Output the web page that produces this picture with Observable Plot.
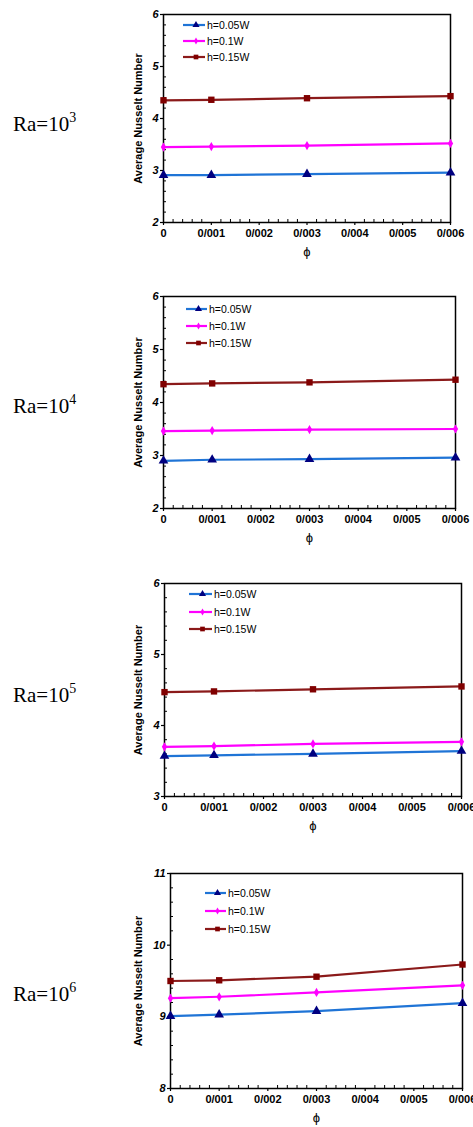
<!DOCTYPE html>
<html>
<head>
<meta charset="utf-8">
<script src="https://cdn.jsdelivr.net/npm/d3@7"></script>
<script src="https://cdn.jsdelivr.net/npm/@observablehq/plot@0.6"></script>
<style>
  html, body { margin: 0; padding: 0; background: #fff; }
  body { width: 473px; height: 1127px; overflow: hidden; position: relative; font-family: "Liberation Sans", Arial, sans-serif; }
  .panel { position: absolute; left: 110px; }
  #ra { position: absolute; left: 0; top: 0; }
</style>
</head>
<body>
<svg id="ra" width="110" height="1127"></svg>
<div id="root"></div>
<script>
// ---------- data ----------
const phi = [0, 0.001, 0.003, 0.006];
const seriesNames = ["h=0.05W", "h=0.1W", "h=0.15W"];
const raExponents = ["3", "4", "5", "6"];
const yLabel = "Average Nusselt Number";
const xLabel = "ϕ";

const xTicks = [0, 0.001, 0.002, 0.003, 0.004, 0.005, 0.006];
const xTickLabels = ["0", "0/001", "0/002", "0/003", "0/004", "0/005", "0/006"];
const xMinorTicks = [0.0002,0.0004,0.0006,0.0008,0.0012,0.0014,0.0016,0.0018,0.0022,0.0024,0.0026,0.0028,
  0.0032,0.0034,0.0036,0.0038,0.0042,0.0044,0.0046,0.0048,0.0052,0.0054,0.0056,0.0058];

// Ra = 10^3
const ra3_h005 = [2.91, 2.91, 2.93, 2.96];
const ra3_h01  = [3.45, 3.46, 3.48, 3.52];
const ra3_h015 = [4.35, 4.36, 4.39, 4.43];
const ra3_yTicks = [2, 3, 4, 5, 6];
// Ra = 10^4
const ra4_h005 = [2.90, 2.92, 2.93, 2.96];
const ra4_h01  = [3.46, 3.47, 3.49, 3.50];
const ra4_h015 = [4.345, 4.36, 4.38, 4.43];
const ra4_yTicks = [2, 3, 4, 5, 6];
// Ra = 10^5
const ra5_h005 = [3.57, 3.58, 3.60, 3.64];
const ra5_h01  = [3.70, 3.71, 3.74, 3.77];
const ra5_h015 = [4.47, 4.48, 4.51, 4.55];
const ra5_yTicks = [3, 4, 5, 6];
// Ra = 10^6
const ra6_h005 = [9.01, 9.03, 9.08, 9.19];
const ra6_h01  = [9.26, 9.28, 9.34, 9.44];
const ra6_h015 = [9.50, 9.51, 9.56, 9.73];
const ra6_yTicks = [8, 9, 10, 11];

// ---------- styles & layout ----------
const lineColors = ["#1f74d6", "#ff00ff", "#8b1a1a"];
const markColors = ["#000080", "#ff00ff", "#800000"];
const symbols = ["triangle", "diamond", "square"];
const symbolR = [3.6, 2.8, 3.6];
const d3Symbols = [d3.symbolTriangle, d3.symbolDiamond, d3.symbolSquare];

const panels = [
  {exp: raExponents[0], values: [ra3_h005, ra3_h01, ra3_h015], yTicks: ra3_yTicks},
  {exp: raExponents[1], values: [ra4_h005, ra4_h01, ra4_h015], yTicks: ra4_yTicks},
  {exp: raExponents[2], values: [ra5_h005, ra5_h01, ra5_h015], yTicks: ra5_yTicks},
  {exp: raExponents[3], values: [ra6_h005, ra6_h01, ra6_h015], yTicks: ra6_yTicks}
];
const layout = [
  {left: 163, right: 450, top: 14, bottom: 222, raY: 131, leg: {x0: 20, x1: 42, tx: 44, rows: [11, 27, 43]}},
  {left: 163, right: 455, top: 296, bottom: 508, raY: 413, leg: {x0: 23, x1: 44, tx: 46, rows: [13, 30, 47]}},
  {left: 164, right: 461, top: 583, bottom: 796, raY: 702, leg: {x0: 25, x1: 48, tx: 50, rows: [11, 29, 46]}},
  {left: 170, right: 462, top: 873, bottom: 1088, raY: 1001, leg: {x0: 35, x1: 56, tx: 58, rows: [20, 38, 56]}}
];

const SVG_LEFT = 110, W = 363, MT = 14, MB = 45;
const root = document.getElementById("root");

panels.forEach((p, k) => {
  const L = layout[k];
  const frameH = L.bottom - L.top, frameW = L.right - L.left;
  const mL = L.left - SVG_LEFT, mR = W - (L.right - SVG_LEFT);
  const y0 = p.yTicks[0], y1 = p.yTicks[p.yTicks.length - 1];
  const yMinor = [];
  for (let i = 0; i < p.yTicks.length - 1; i++) for (let j = 1; j < 5; j++) yMinor.push(p.yTicks[i] + j * (p.yTicks[i+1] - p.yTicks[i]) / 5);

  const seriesMarks = [];
  p.values.forEach((vals, s) => {
    const rows = vals.map((v, i) => ({phi: phi[i], nu: v}));
    seriesMarks.push(Plot.line(rows, {x: "phi", y: "nu", stroke: lineColors[s], strokeWidth: 2.2}));
  });
  p.values.forEach((vals, s) => {
    const rows = vals.map((v, i) => ({phi: phi[i], nu: v}));
    seriesMarks.push(Plot.dot(rows, {x: "phi", y: "nu", symbol: symbols[s], r: symbolR[s], fill: markColors[s], stroke: "none"}));
  });

  const chart = Plot.plot({
    width: W, height: MT + frameH + MB,
    marginTop: MT, marginBottom: MB, marginLeft: mL, marginRight: mR,
    style: {fontFamily: "'Liberation Sans', Arial, sans-serif", background: "transparent", overflow: "visible", color: "#000"},
    x: {domain: [0, 0.006]},
    y: {domain: [y0, y1]},
    marks: [
      Plot.ruleX(xMinorTicks, {insetTop: frameH - 3, stroke: "#000", strokeWidth: 1}),
      Plot.ruleY(yMinor, {insetRight: frameW - 3, stroke: "#000", strokeWidth: 1}),
      Plot.axisX({ticks: xTicks, tickFormat: d => xTickLabels[xTicks.findIndex(t => Math.abs(t - d) < 1e-9)],
        tickSize: 3, tickPadding: 4, fontSize: 11, fontWeight: "bold", label: null, strokeWidth: 1.2}),
      Plot.axisY({ticks: p.yTicks, tickFormat: d => String(d), tickSize: 3, tickPadding: 2,
        fontSize: 11, fontWeight: "bold", fontStyle: "italic", label: null, strokeWidth: 1.2}),
      Plot.frame({stroke: "#000", strokeWidth: 1.5}),
      ...seriesMarks,
      Plot.text([yLabel], {frameAnchor: "left", textAnchor: "middle", lineAnchor: "middle", dx: -(L.left - 138), rotate: -90, fontSize: 11, fontWeight: "bold", fill: "#000"}),
      Plot.text([xLabel], {frameAnchor: "bottom", dy: 33, fontSize: 13, fill: "#000"})
    ]
  });
  const div = document.createElement("div");
  div.className = "panel";
  div.style.top = (L.top - MT) + "px";
  div.appendChild(chart);
  root.appendChild(div);

  // legend inside the frame
  const svg = d3.select(chart);
  const g = svg.append("g").attr("transform", `translate(${mL},${MT})`).attr("text-anchor", "start");
  seriesNames.forEach((name, s) => {
    const yy = L.leg.rows[s];
    g.append("line").attr("x1", L.leg.x0).attr("x2", L.leg.x1).attr("y1", yy).attr("y2", yy)
      .attr("stroke", lineColors[s]).attr("stroke-width", 2.2);
    const area = [22, 14, 22][s];
    g.append("path").attr("d", d3.symbol(d3Symbols[s], area)())
      .attr("transform", `translate(${(L.leg.x0 + L.leg.x1) / 2 + 2},${yy})`)
      .attr("fill", markColors[s]);
    g.append("text").attr("x", L.leg.tx).attr("y", yy).attr("dy", "0.35em")
      .attr("text-anchor", "start")
      .attr("font-size", 10.5).attr("font-family", "'Liberation Sans', Arial, sans-serif")
      .attr("fill", "#000").text(name);
  });

  // Ra label
  const t = d3.select("#ra").append("text").attr("x", 13).attr("y", L.raY)
    .attr("font-family", "'Liberation Serif', 'Times New Roman', serif").attr("font-size", 21).attr("fill", "#000");
  t.append("tspan").text("Ra=10");
  t.append("tspan").attr("font-size", 14).attr("dy", -9).text(p.exp);
});
</script>
</body>
</html>
